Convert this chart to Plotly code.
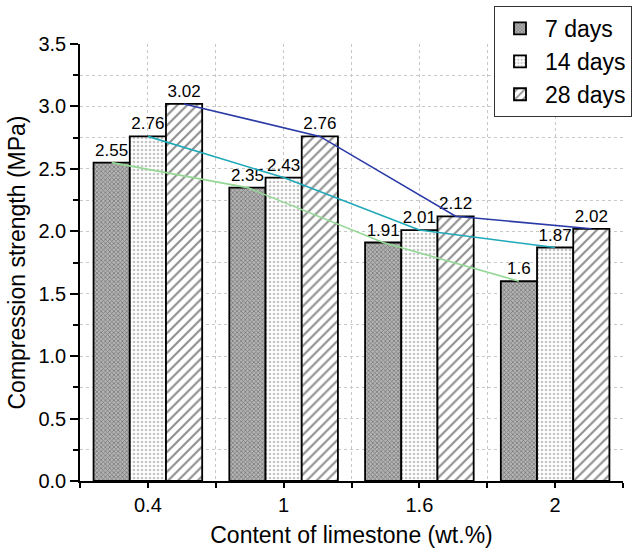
import plotly.graph_objects as go

categories = ["0.4", "1", "1.6", "2"]
series_names = ["7 days", "14 days", "28 days"]
days7 = [2.55, 2.35, 1.91, 1.60]
days14 = [2.76, 2.43, 2.01, 1.87]
days28 = [3.02, 2.76, 2.12, 2.02]
label7 = ["2.55", "2.35", "1.91", "1.6"]
label14 = ["2.76", "2.43", "2.01", "1.87"]
label28 = ["3.02", "2.76", "2.12", "2.02"]

series = [days7, days14, days28]
labels = [label7, label14, label28]
patterns = [
    dict(shape="x", size=3, solidity=0.45, fgcolor="#3c3c3c", bgcolor="#b4b4b4"),
    dict(shape=".", size=4, solidity=0.35, fgcolor="#8a8a8a", bgcolor="#ffffff"),
    dict(shape="/", size=7, solidity=0.3, fgcolor="#202020", bgcolor="#ffffff"),
]
line_colors = ["#95d895", "#1fa8b8", "#2a3aa6"]

xs = list(range(len(categories)))
n = len(series)
group_w = 0.8
bw = group_w / n
FONT = "Liberation Sans, Arial, sans-serif"

fig = go.Figure()
for i, (name, vals, lab, pat) in enumerate(zip(series_names, series, labels, patterns)):
    fig.add_trace(go.Bar(
        x=xs, y=vals, name=name, text=lab, textposition="outside",
        textfont=dict(size=17, color="black", family=FONT),
        cliponaxis=False,
        marker=dict(pattern=pat, color=pat["bgcolor"], line=dict(color="black", width=1.8)),
    ))

for i, (vals, col) in enumerate(zip(series, line_colors)):
    off = -group_w / 2 + bw * (i + 0.5)
    fig.add_trace(go.Scatter(
        x=[x + off for x in xs], y=vals, mode="lines",
        line=dict(color=col, width=1.6), showlegend=False, hoverinfo="skip",
    ))

fig.update_layout(
    width=635, height=548,
    margin=dict(l=80, r=12, t=44, b=67, autoexpand=False),
    paper_bgcolor="white", plot_bgcolor="white",
    barmode="group", bargap=0.2, bargroupgap=0,
    font=dict(family=FONT, color="black"),
    legend=dict(
        x=(494 - 80) / 543, y=(481 - 6) / 437, xanchor="left", yanchor="top",
        bordercolor="#333", borderwidth=1, bgcolor="white",
        font=dict(size=23, family=FONT), itemwidth=40, tracegroupgap=0,
    ),
    xaxis=dict(
        range=[-0.5, len(categories) - 0.5], automargin=False,
        tickvals=xs, ticktext=categories,
        tickfont=dict(size=20), ticks="outside", ticklen=5, tickwidth=1.5, tickcolor="black",
        showline=True, linecolor="black", linewidth=1.5,
        showgrid=True, gridcolor="#c8c8c8", griddash="dot", gridwidth=1,
        minor=dict(tick0=-0.5, dtick=1, ticks="outside", ticklen=5, tickwidth=1.5, tickcolor="black",
                   showgrid=True, gridcolor="#c8c8c8", griddash="dot", gridwidth=1),
        title=dict(text="Content of limestone (wt.%)", font=dict(size=23), standoff=12),
        zeroline=False,
    ),
    yaxis=dict(
        range=[0, 3.5], dtick=0.5, tick0=0, tickformat=".1f", automargin=False,
        tickfont=dict(size=20), ticks="outside", ticklen=8, tickwidth=1.5, tickcolor="black",
        showline=True, linecolor="black", linewidth=1.5,
        showgrid=True, gridcolor="#c8c8c8", griddash="dot", gridwidth=1,
        minor=dict(dtick=0.25, ticks="outside", ticklen=5, tickwidth=1.5, tickcolor="black",
                   showgrid=True, gridcolor="#c8c8c8", griddash="dot", gridwidth=1),
        title=dict(text="Compression strength (MPa)", font=dict(size=23), standoff=6),
        zeroline=False,
    ),
)

fig.write_html("out.html")
